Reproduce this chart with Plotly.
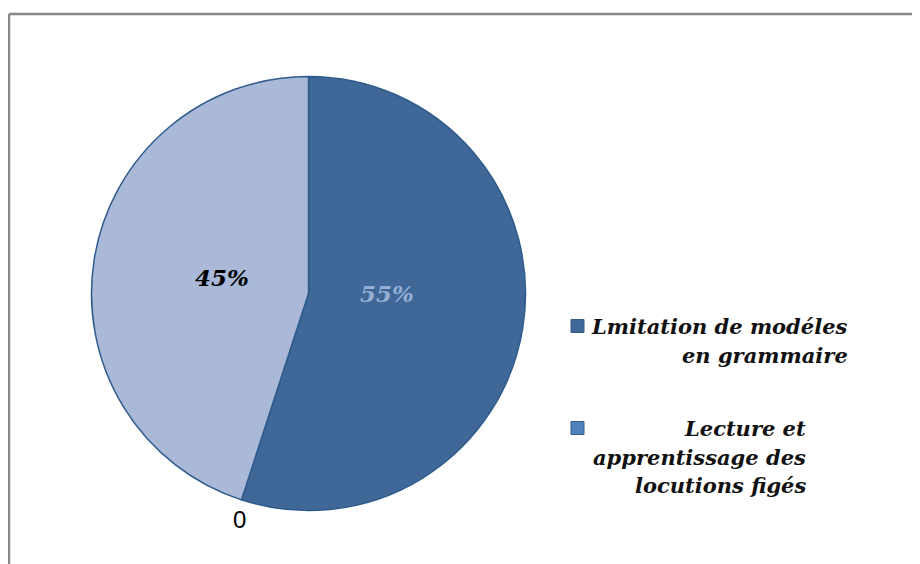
import plotly.graph_objects as go

labels = ["Lmitation de modéles en grammaire", "Lecture et apprentissage des locutions figés"]
values = [55, 45]
slice_colors = ["#3F6797", "#A9B9D7"]
legend_colors = ["#3F6797", "#4F81BD"]
legend_lines = [["Lmitation de modéles", "en grammaire"],
                ["Lecture et", "apprentissage des", "locutions figés"]]
text_colors = ["#95AED3", "#000000"]
zero_label = "0"

W, H = 920, 564
OFF = 8  # page body margin
cx, cy, r = 308.5 - OFF, 293.5 - OFF, 217


def px(x):
    return (x - OFF) / W


def py(y):
    return 1 - (y - OFF) / H


fig = go.Figure()
fig.add_trace(go.Pie(
    labels=labels, values=values, sort=False, direction="clockwise", rotation=0,
    marker=dict(colors=slice_colors, line=dict(color="#2F5B8C", width=1.5)),
    textinfo="none",
    showlegend=False, hoverinfo="label+percent",
    domain=dict(x=[(cx - r) / W, (cx + r) / W], y=[(H - cy - r) / H, (H - cy + r) / H]),
))

annotations = []
shapes = [
    dict(type="line", xref="paper", yref="paper", x0=px(9), x1=1, y0=py(14), y1=py(14),
         line=dict(color="#888888", width=2.5)),
    dict(type="line", xref="paper", yref="paper", x0=px(9), x1=px(9), y0=0, y1=py(14),
         line=dict(color="#888888", width=2.5)),
]
# percentage labels
label_pos = [(387, 293), (222, 277)]
total = sum(values)
for v, (lx, ly), c in zip(values, label_pos, text_colors):
    annotations.append(dict(text="<b><i>%d%%</i></b>" % round(100 * v / total), xref="paper", yref="paper",
                            x=px(lx), y=py(ly), xanchor="center", yanchor="middle", showarrow=False,
                            font=dict(family="DejaVu Serif", size=23, color=c)))

entry_tops = [326, 428]
right_edges = [850, 808]
line_h = 29
for i, lines in enumerate(legend_lines):
    y0 = entry_tops[i]
    shapes.append(dict(type="rect", xref="paper", yref="paper",
                       x0=px(571), x1=px(584), y0=py(y0 - 6.5), y1=py(y0 + 6.5),
                       fillcolor=legend_colors[i], line=dict(color="#385D8A", width=1)))
    for j, t in enumerate(lines):
        annotations.append(dict(text="<b><i>" + t + "</i></b>", xref="paper", yref="paper",
                                x=px(right_edges[i]), y=py(y0 + j * line_h),
                                xanchor="right", yanchor="middle", showarrow=False,
                                font=dict(family="DejaVu Serif", size=21, color="#111111")))
annotations.append(dict(text=zero_label, xref="paper", yref="paper", x=px(239), y=py(519),
                        xanchor="center", yanchor="middle", showarrow=False,
                        font=dict(family="Liberation Sans", size=24, color="#000000")))

fig.update_layout(width=W, height=H, margin=dict(l=0, r=0, t=0, b=0),
                  paper_bgcolor="white", plot_bgcolor="white",
                  shapes=shapes, annotations=annotations)
fig.write_html("out.html")
